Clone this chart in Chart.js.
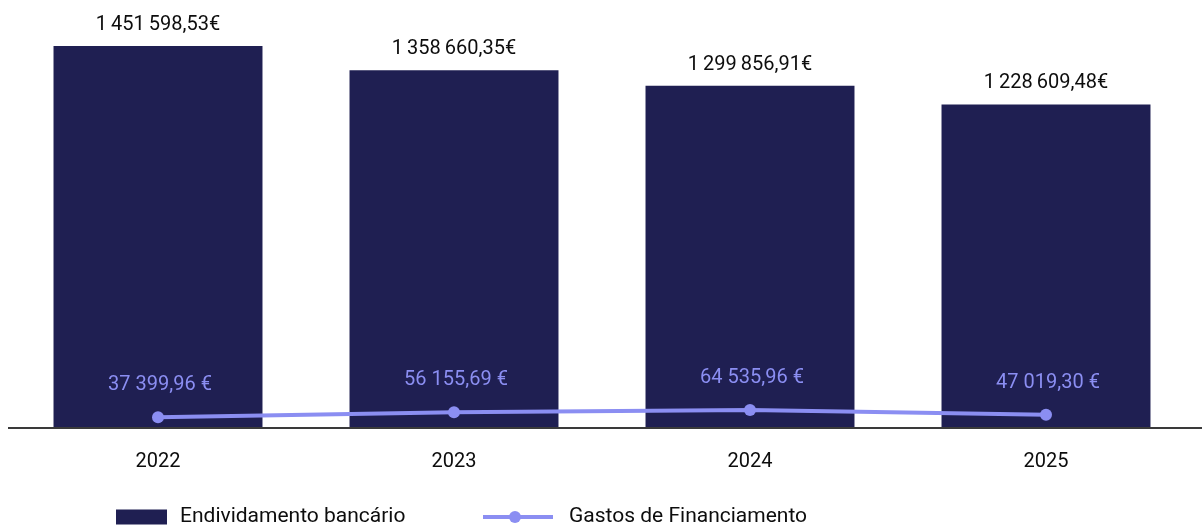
<!DOCTYPE html>
<html>
<head>
<meta charset="utf-8">
<script src="https://cdn.jsdelivr.net/npm/chart.js@4"></script>
<style>
  html, body { margin: 0; padding: 0; background: #fff; }
  #wrap { width: 1202px; height: 526px; }
</style>
</head>
<body>
<div id="wrap"><canvas id="myChart"></canvas></div>
<script>
const categories = ['2022', '2023', '2024', '2025'];
const endividamento = [1451598.53, 1358660.35, 1299856.91, 1228609.48];
const gastos = [37399.96, 56155.69, 64535.96, 47019.30];
const seriesNames = ['Endividamento bancário', 'Gastos de Financiamento'];

const navy = '#1f1f52';
const lilac = '#8b8ef2';
const fontFamily = 'Roboto, "Noto Sans", sans-serif';

// 1 451 598,53  (sep = separador de milhares)
function fmt(v, sep) {
    let parts = v.toFixed(2).split('.');
    let int = parts[0].replace(/\B(?=(\d{3})+(?!\d))/g, sep);
    return int + ',' + parts[1];
}

const labelsPlugin = {
    id: 'labels',
    afterDatasetsDraw(chart) {
        const c = chart.ctx;
        const area = chart.chartArea;

        // eixo x
        c.save();
        c.strokeStyle = '#3a3a3a';
        c.lineWidth = 2;
        c.beginPath();
        c.moveTo(8, area.bottom + 1);
        c.lineTo(1202, area.bottom + 1);
        c.stroke();
        c.restore();

        c.save();
        c.font = '20px ' + fontFamily;
        c.textAlign = 'center';
        c.textBaseline = 'middle';

        chart.getDatasetMeta(0).data.forEach((bar, i) => {
            c.fillStyle = '#0d0d0d';
            c.fillText(fmt(endividamento[i], '\u2009') + '€', bar.x, bar.y - 21);
        });
        chart.getDatasetMeta(1).data.forEach((pt, i) => {
            c.fillStyle = lilac;
            c.fillText(fmt(gastos[i], ' ') + ' €', pt.x + 2, pt.y - 32);
        });
        c.restore();
    },
    afterDraw(chart) {
        const c = chart.ctx;
        const y = 517;
        c.save();
        c.fillStyle = navy;
        c.fillRect(116, 509.5, 51, 15);

        c.strokeStyle = lilac;
        c.lineWidth = 4;
        c.beginPath();
        c.moveTo(483, y);
        c.lineTo(553, y);
        c.stroke();
        c.fillStyle = lilac;
        c.beginPath();
        c.arc(515, y, 6, 0, Math.PI * 2);
        c.fill();

        c.font = '21px ' + fontFamily;
        c.fillStyle = '#0d0d0d';
        c.textAlign = 'left';
        c.textBaseline = 'middle';
        c.fillText(seriesNames[0], 180, y);
        c.fillText(seriesNames[1], 569, y);
        c.restore();
    }
};

const ctx = document.getElementById('myChart');

let myChart = new Chart(ctx, {
    type: 'bar',
    data: {
        labels: categories,
        datasets: [{
            label: seriesNames[0],
            data: endividamento,
            backgroundColor: navy,
            borderWidth: 0,
            categoryPercentage: 1,
            barPercentage: 0.706,
            order: 1
        }, {
            type: 'line',
            label: seriesNames[1],
            data: gastos,
            borderColor: lilac,
            backgroundColor: lilac,
            borderWidth: 4,
            pointRadius: 6,
            pointHoverRadius: 6,
            pointBackgroundColor: lilac,
            pointBorderWidth: 0,
            tension: 0,
            order: 0
        }]
    },
    options: {
        responsive: true,
        maintainAspectRatio: false,
        animation: false,
        layout: {
            padding: { top: 7, left: 10, right: 8, bottom: 57 }
        },
        plugins: {
            legend: { display: false },
            tooltip: { enabled: false }
        },
        scales: {
            x: {
                grid: { display: false, drawTicks: false },
                border: { display: false },
                ticks: {
                    color: '#0d0d0d',
                    padding: 23,
                    font: { family: fontFamily, size: 20 }
                },
                afterFit: (s) => { s.height = 42; }
            },
            y: {
                display: false,
                min: 0,
                max: 1600000
            }
        }
    },
    plugins: [labelsPlugin]
});
</script>
</body>
</html>
